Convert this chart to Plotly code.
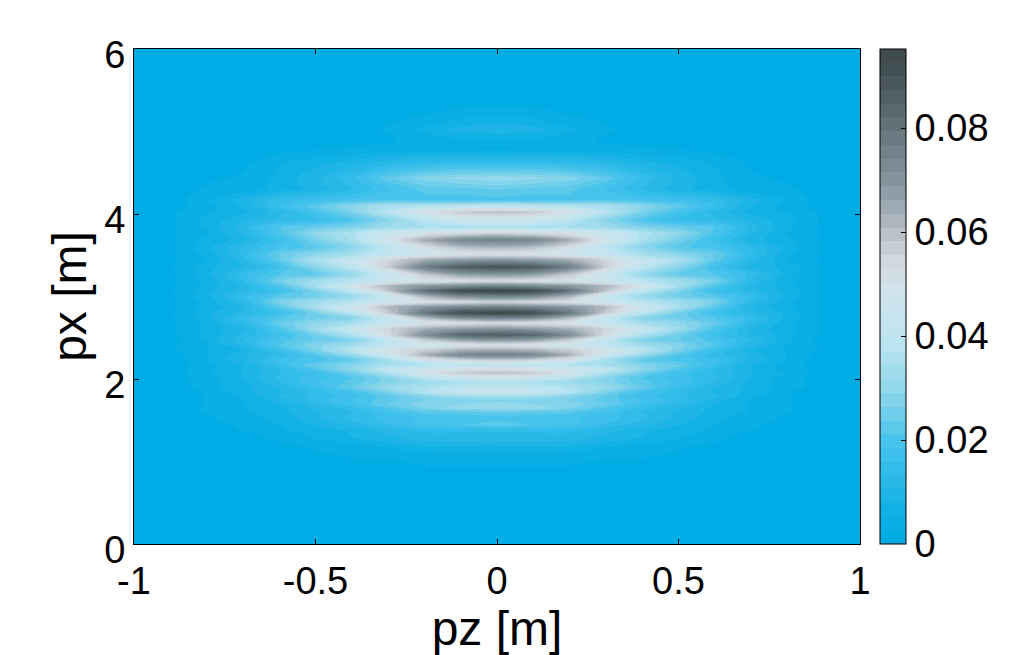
import plotly.graph_objects as go

FONT = "Liberation Sans, Arial, sans-serif"

# half-width sample positions along pz (mirrored about pz = 0)
PZ_HALF = [0, 0.1, 0.2, 0.3, 0.4, 0.5, 0.6, 0.7, 0.8, 0.9, 1.0]

# px sample positions, top of the plot to the bottom
PX_ROWS = [6, 5.442, 5.321, 5.164, 5.018, 4.909, 4.8, 4.618, 4.436, 4.303, 4.17, 4.097, 4.024, 3.927,
           3.842, 3.77, 3.685, 3.6, 3.515, 3.442, 3.358, 3.273, 3.188, 3.127, 3.067, 3.006, 2.933,
           2.873, 2.8, 2.739, 2.679, 2.606, 2.533, 2.473, 2.412, 2.352, 2.291, 2.23, 2.17, 2.121,
           2.073, 2.012, 1.964, 1.903, 1.842, 1.794, 1.745, 1.697, 1.648, 1.6, 1.539, 1.491, 1.442,
           1.394, 1.345, 1.297, 1.261, 1.212, 1.164, 1.079, 0.994, 0.897, 0.776, 0]

# amplitude in thousandths, one row per PX_ROWS entry, columns pz = 0 ... 0.9
AMP_MILLI = [
    [0, 0, 0, 0, 0, 0, 0, 0, 0, 0],
    [0, 0, 0, 0, 0, 0, 0, 0, 0, 0],
    [2, 2, 1, 0, 0, 0, 0, 0, 0, 0],
    [6, 5, 3, 2, 1, 0, 0, 0, 0, 0],
    [10, 9, 6, 3, 1, 0, 0, 0, 0, 0],
    [5, 5, 4, 2, 1, 0, 0, 0, 0, 0],
    [2, 3, 3, 3, 3, 2, 1, 0, 0, 0],
    [15, 15, 14, 12, 9, 7, 5, 2, 1, 0],
    [31, 30, 28, 23, 15, 10, 6, 3, 2, 0],
    [24, 23, 22, 18, 13, 9, 6, 4, 3, 1],
    [20, 19, 20, 21, 19, 17, 15, 9, 5, 1],
    [40, 39, 37, 35, 29, 23, 16, 8, 4, 1],
    [60, 58, 50, 38, 27, 19, 12, 7, 5, 2],
    [47, 46, 39, 29, 21, 15, 14, 10, 6, 2],
    [36, 35, 34, 32, 27, 24, 21, 12, 6, 2],
    [55, 53, 50, 45, 36, 30, 20, 11, 5, 2],
    [76, 74, 64, 49, 35, 26, 17, 9, 6, 2],
    [63, 61, 53, 40, 29, 22, 19, 13, 7, 2],
    [50, 49, 46, 42, 34, 29, 24, 14, 6, 2],
    [70, 68, 64, 55, 43, 35, 23, 12, 5, 2],
    [90, 87, 76, 57, 40, 29, 18, 10, 7, 2],
    [71, 69, 59, 44, 31, 23, 21, 15, 7, 2],
    [53, 51, 50, 46, 38, 33, 26, 13, 6, 2],
    [75, 73, 69, 62, 49, 34, 21, 11, 6, 2],
    [96, 93, 80, 59, 40, 27, 17, 12, 7, 2],
    [76, 74, 63, 44, 31, 25, 22, 15, 7, 2],
    [55, 53, 51, 47, 38, 33, 27, 13, 6, 2],
    [75, 73, 69, 61, 47, 35, 22, 10, 6, 2],
    [95, 92, 79, 57, 39, 26, 17, 12, 7, 2],
    [74, 72, 61, 43, 28, 25, 21, 15, 7, 2],
    [53, 51, 49, 43, 34, 30, 24, 13, 6, 2],
    [70, 68, 64, 55, 43, 32, 20, 10, 6, 2],
    [87, 84, 72, 53, 36, 25, 17, 11, 6, 2],
    [69, 67, 57, 41, 27, 24, 20, 13, 6, 1],
    [51, 49, 47, 41, 33, 28, 21, 11, 5, 2],
    [64, 62, 57, 50, 39, 27, 17, 8, 5, 2],
    [76, 74, 63, 46, 31, 21, 14, 10, 5, 1],
    [58, 56, 48, 34, 23, 20, 17, 10, 5, 1],
    [41, 40, 37, 34, 28, 24, 16, 8, 4, 1],
    [51, 49, 46, 41, 30, 21, 13, 8, 4, 1],
    [60, 58, 50, 36, 25, 17, 13, 8, 5, 1],
    [46, 45, 38, 28, 21, 17, 14, 8, 4, 1],
    [36, 35, 32, 28, 22, 18, 13, 7, 4, 1],
    [40, 39, 36, 31, 24, 16, 11, 7, 4, 1],
    [44, 43, 37, 27, 19, 14, 10, 7, 3, 0],
    [35, 34, 29, 23, 17, 14, 11, 6, 3, 0],
    [28, 27, 26, 23, 18, 15, 9, 5, 3, 0],
    [30, 29, 28, 24, 18, 13, 8, 5, 3, 0],
    [32, 31, 27, 21, 15, 11, 7, 5, 3, 0],
    [24, 23, 22, 18, 13, 10, 7, 5, 3, 0],
    [20, 19, 19, 17, 14, 10, 6, 4, 2, 0],
    [21, 20, 19, 17, 13, 9, 6, 4, 2, 0],
    [22, 21, 19, 15, 11, 8, 5, 3, 1, 0],
    [16, 15, 15, 12, 9, 7, 5, 3, 1, 0],
    [13, 13, 13, 11, 8, 6, 4, 2, 1, 0],
    [13, 12, 12, 10, 8, 6, 3, 2, 0, 0],
    [13, 12, 11, 9, 7, 5, 3, 1, 0, 0],
    [9, 9, 9, 7, 5, 4, 2, 1, 0, 0],
    [7, 7, 7, 5, 4, 3, 1, 0, 0, 0],
    [5, 5, 4, 4, 3, 2, 1, 0, 0, 0],
    [3, 3, 3, 2, 2, 1, 0, 0, 0, 0],
    [2, 2, 2, 1, 1, 0, 0, 0, 0, 0],
    [1, 1, 1, 0, 0, 0, 0, 0, 0, 0],
    [0, 0, 0, 0, 0, 0, 0, 0, 0, 0],
]

Z_MAX = 0.0952
COLOR_STOPS = [
    (0.0, "#00ACE4"), (0.002, "#00ACE4"), (0.01, "#1FB5E6"), (0.02, "#46C3EC"), (0.03, "#8ED6EA"),
    (0.04, "#BDE5F0"), (0.05, "#D0E2EA"), (0.055, "#D3DBE2"), (0.06, "#C0C8D0"),
    (0.07, "#8A9AA3"), (0.08, "#6A7A82"), (0.09, "#4C5A60"), (Z_MAX, "#404C4E"),
]
X_TICKS = [-1, -0.5, 0, 0.5, 1]
X_TICK_TEXT = ["-1", "-0.5", "0", "0.5", "1"]
Y_TICKS = [0, 2, 4, 6]
CB_TICKS = [0, 0.02, 0.04, 0.06, 0.08]
CB_TICK_TEXT = ["0", "0.02", "0.04", "0.06", "0.08"]

pz = [-v for v in PZ_HALF[:0:-1]] + PZ_HALF
px = PX_ROWS[::-1]
z = []
for row in AMP_MILLI[::-1]:
    half = [v / 1000 for v in row] + [0]
    z.append(half[:0:-1] + half)

fig = go.Figure(go.Contour(
    x=pz, y=px, z=z, zmin=0, zmax=Z_MAX, zauto=False,
    colorscale=[[v / Z_MAX, c] for v, c in COLOR_STOPS],
    autocontour=False,
    contours=dict(start=-0.0001, end=Z_MAX, size=0.00265, coloring="fill", showlines=False),
    line=dict(width=0, smoothing=0.6),
    hoverinfo="skip",
    colorbar=dict(
        x=1.0275, xanchor="left", xpad=0, y=0, yanchor="bottom", ypad=0,
        len=1, lenmode="fraction", thickness=26, thicknessmode="pixels",
        outlinecolor="black", outlinewidth=1, borderwidth=0,
        tickmode="array", tickvals=CB_TICKS, ticktext=CB_TICK_TEXT,
        ticks="inside", ticklen=5, tickcolor="black", tickwidth=1,
        tickfont=dict(family=FONT, size=38, color="black"),
    ),
))

axis = dict(showgrid=False, zeroline=False, showline=True, linecolor="black", linewidth=1,
            mirror="ticks", ticks="inside", ticklen=5, tickcolor="black", tickwidth=1,
            tickfont=dict(family=FONT, size=38, color="black"))
fig.update_xaxes(range=[-1, 1], tickmode="array", tickvals=X_TICKS, ticktext=X_TICK_TEXT,
                 ticklabelstandoff=3,
                 title=dict(text="pz [m]", font=dict(family=FONT, size=48, color="black"), standoff=6), **axis)
fig.update_yaxes(range=[0, 6], tickmode="array", tickvals=Y_TICKS, ticktext=[str(v) for v in Y_TICKS],
                 ticklabelshift=6,
                 title=dict(text="px [m]", font=dict(family=FONT, size=48, color="black"), standoff=2), **axis)
fig.update_layout(width=1022, height=655, autosize=False, paper_bgcolor="white", plot_bgcolor="white",
                  margin=dict(l=134, r=162, t=49, b=111, pad=0))

fig.write_html("out.html", config={"displayModeBar": False},
               post_script="document.body.style.margin='0';document.body.style.overflow='hidden';")
